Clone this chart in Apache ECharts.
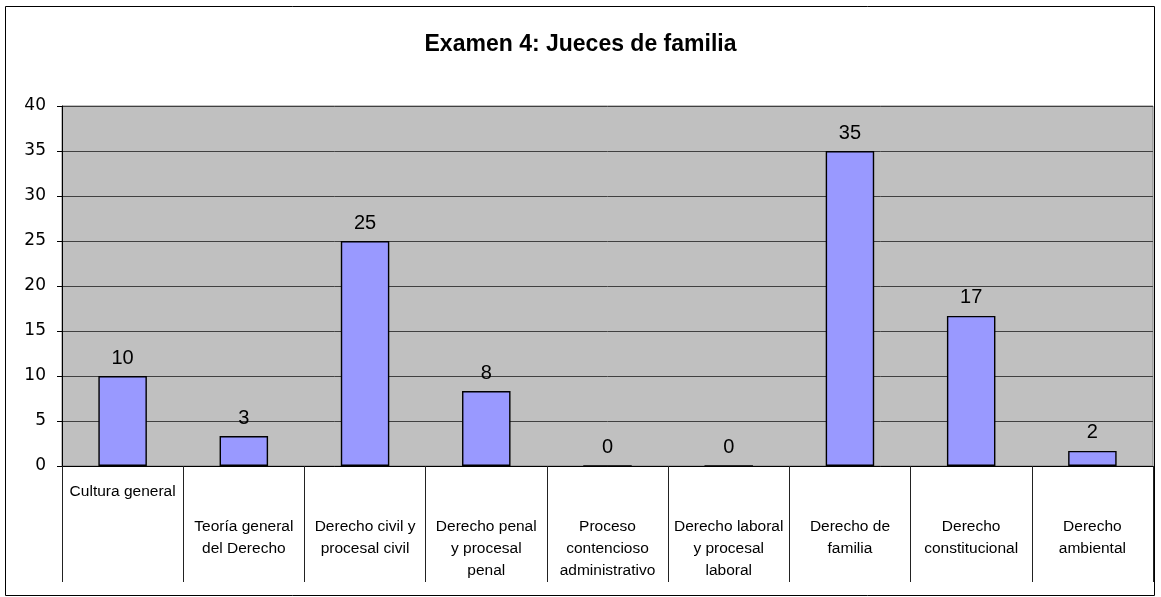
<!DOCTYPE html>
<html>
  <head>
    <meta charset="utf-8" />
    <title>Examen 4</title>
    <script src="https://cdn.jsdelivr.net/npm/echarts@6/dist/echarts.min.js"></script>
    <style>
      body { margin: 0; }
      #main { width: 1161px; height: 597px; }
    </style>
  </head>
  <body>
    <div id="main"></div>
    <script type="text/javascript">
      var categories = [
        'Cultura general',
        'Teoría general\ndel Derecho',
        'Derecho civil y\nprocesal civil',
        'Derecho penal\ny procesal\npenal',
        'Proceso\ncontencioso\nadministrativo',
        'Derecho laboral\ny procesal\nlaboral',
        'Derecho de\nfamilia',
        'Derecho\nconstitucional',
        'Derecho\nambiental'
      ];
      var values = [10, 3.33, 25, 8.33, 0, 0, 35, 16.67, 1.67];
      var yTicks = [0, 40, 5];

      var chart = echarts.init(document.getElementById('main'));

      // primera etiqueta va arriba, las demas mas abajo
      var axisData = categories.map(function (c, i) {
        return {
          value: c,
          textStyle: { padding: i === 0 ? [0, 0, 0, 0] : [35, 0, 0, 0] }
        };
      });

      var option = {
        animation: false,
        backgroundColor: '#fff',
        graphic: [{
          type: 'rect',
          shape: { x: 5.5, y: 6.5, width: 1149, height: 589 },
          style: { fill: null, stroke: '#000', lineWidth: 1 },
          z: -1
        }],
        title: {
          text: 'Examen 4: Jueces de familia',
          left: 'center',
          top: 28,
          textStyle: { fontFamily: 'Liberation Sans', fontSize: 23, fontWeight: 'bold', color: '#000' }
        },
        grid: {
          left: 62, right: 8, top: 106, bottom: 131,
          show: true,
          backgroundColor: '#c0c0c0',
          borderColor: '#808080',
          borderWidth: 1
        },
        xAxis: {
          type: 'category',
          data: axisData,
          axisLine: { lineStyle: { color: '#000', width: 1 } },
          axisTick: { show: true, length: 116, alignWithLabel: false, lineStyle: { color: '#222' } },
          axisLabel: {
            interval: 0,
            margin: 15,
            verticalAlign: 'top',
            lineHeight: 22,
            fontFamily: 'Liberation Sans',
            fontSize: 15.5,
            color: '#000'
          }
        },
        yAxis: {
          type: 'value',
          min: yTicks[0],
          max: yTicks[1],
          interval: yTicks[2],
          axisLine: { show: true, lineStyle: { color: '#000' } },
          axisTick: { show: true, length: 5, lineStyle: { color: '#000' } },
          splitLine: { show: true, lineStyle: { color: '#404040', width: 1 } },
          axisLabel: { margin: 16, fontFamily: 'DejaVu Sans', fontSize: 17, color: '#000' }
        },
        series: [{
          type: 'bar',
          data: values,
          barWidth: '40%',
          itemStyle: { color: '#9999ff', borderColor: '#000', borderWidth: 1.4 },
          label: {
            show: true,
            position: 'top',
            distance: 8,
            fontFamily: 'Liberation Sans',
            fontSize: 20,
            color: '#000',
            formatter: function (p) { return Math.round(p.value); }
          }
        }]
      };

      chart.setOption(option);
    </script>
  </body>
</html>
